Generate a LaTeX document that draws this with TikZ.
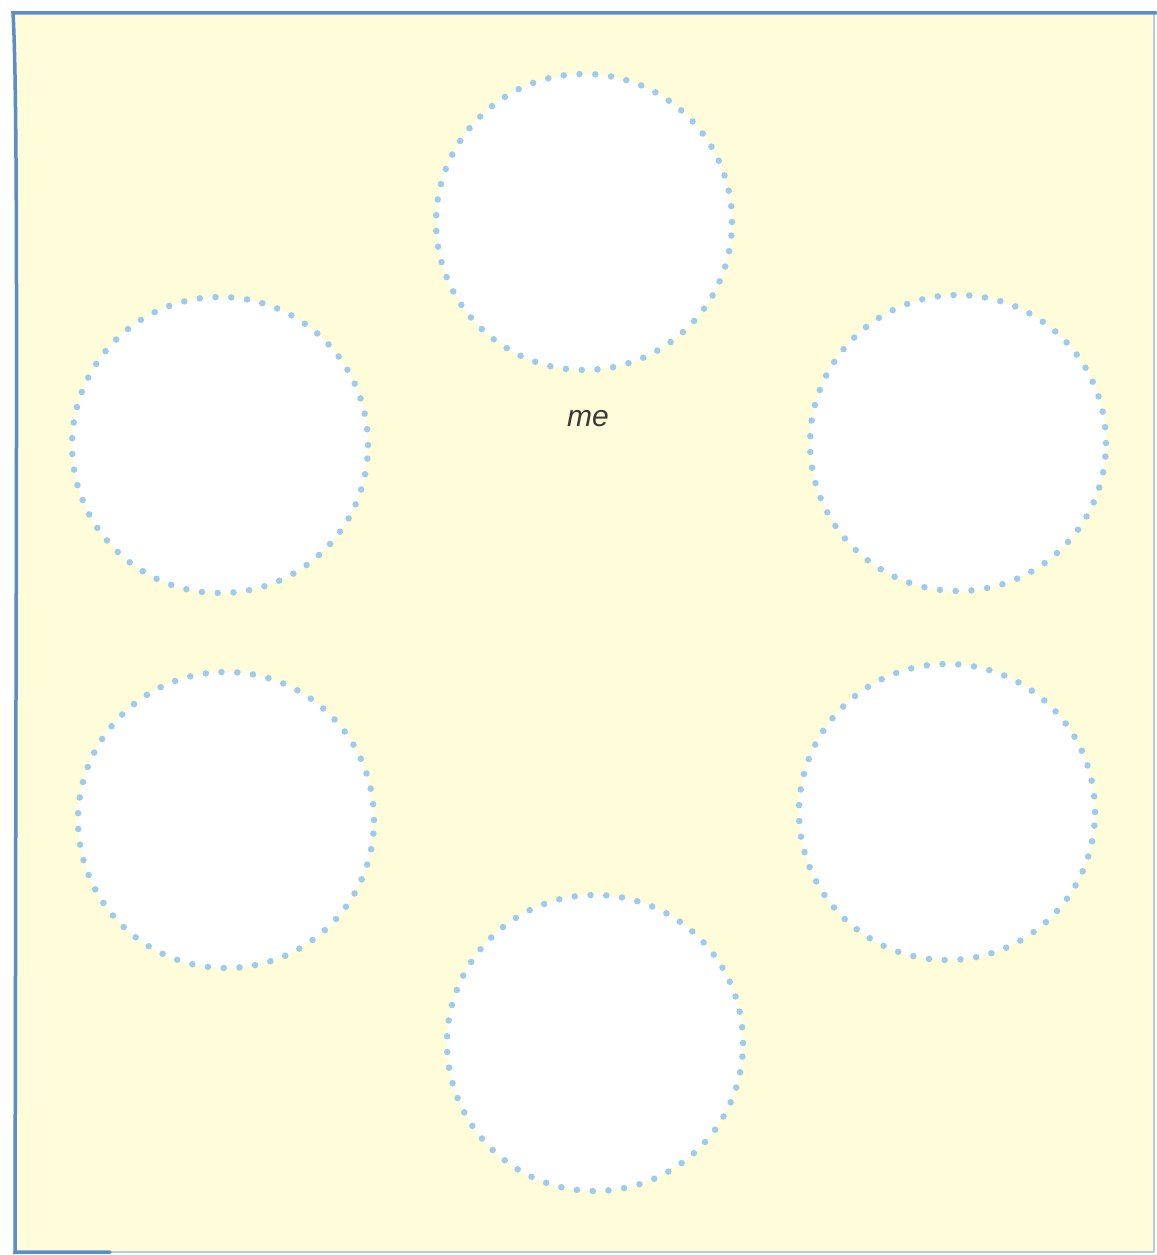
\documentclass[tikz,border=0pt]{standalone}
\usepackage{fontspec}
\setmainfont{Liberation Sans}
\definecolor{paper}{HTML}{FFFCDA}
\definecolor{frameblue}{HTML}{5B8DC9}
\definecolor{dotblue}{HTML}{9CCBEC}
\definecolor{ink}{HTML}{3A3A3A}
\begin{document}
\begin{tikzpicture}[x=1pt,y=-1pt,
  bubble/.style={circle,minimum size=296pt,inner sep=0pt,fill=white,draw=dotblue,
     line width=6.5pt,line cap=round,dash pattern=on 0pt off 15.8pt},
  label/.style={font=\itshape\fontsize{30}{32}\selectfont,text=ink}]
\useasboundingbox (0,0) rectangle (1156,1255);
\fill[paper] (13,13) rectangle (1156,1252);
\draw[frameblue!45,line width=1.5pt] (1154,13) -- (1154,1252);
\draw[frameblue!45,line width=2pt] (13,1252) -- (1154,1252);
\draw[frameblue,line width=3.5pt,line cap=round] (1156,13) -- (13,13)
  .. controls (17,80) and (17,300) .. (16,700) -- (15,1252) -- (110,1252);
\node[bubble] (top) at (584,222) {};
\node[bubble] (ul) at (220,445) {};
\node[bubble] (ur) at (958,443) {};
\node[bubble] (ll) at (226,820) {};
\node[bubble] (lr) at (947,812) {};
\node[bubble] (bot) at (595,1043) {};
\node[label] (me) at (588,419) {me};
\end{tikzpicture}
\end{document}
